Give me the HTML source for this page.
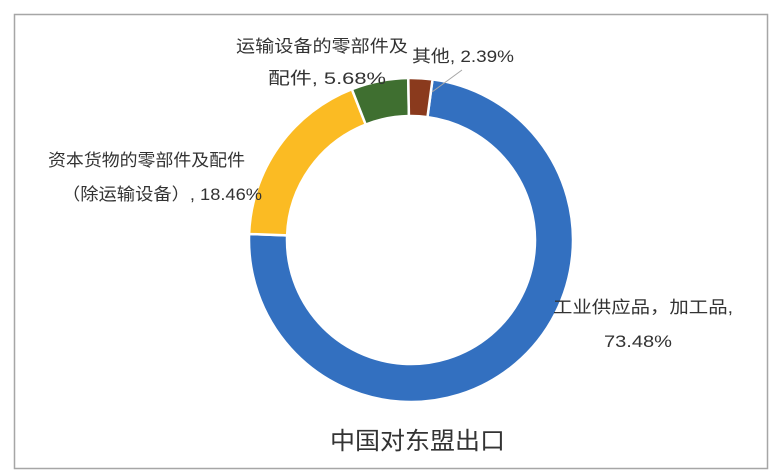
<!DOCTYPE html>
<html><head><meta charset="utf-8"><style>
body{margin:0;background:#fff;}
svg{display:block;font-family:"Liberation Sans","Noto Sans CJK SC",sans-serif;}
</style></head><body>
<svg width="783" height="475" viewBox="0 0 783 475">
<rect x="14.5" y="14.5" width="753" height="454" fill="#fff" stroke="#a6a6a6" stroke-width="1.5"/>
<g id="d"></g>
<line x1="432" y1="92" x2="462" y2="70" stroke="#a6a6a6" stroke-width="1"/>
<g font-size="17" fill="#333">
<text x="236" y="52" textLength="172" lengthAdjust="spacingAndGlyphs">运输设备的零部件及</text>
<text x="268" y="84" textLength="118" lengthAdjust="spacingAndGlyphs">配件, 5.68%</text>
<text x="412" y="62" textLength="102" lengthAdjust="spacingAndGlyphs">其他, 2.39%</text>
<text x="48" y="166" textLength="197" lengthAdjust="spacingAndGlyphs">资本货物的零部件及配件</text>
<text x="62" y="200" textLength="200" lengthAdjust="spacingAndGlyphs">（除运输设备）, 18.46%</text>
<text x="553" y="313" textLength="180" lengthAdjust="spacingAndGlyphs">工业供应品，加工品,</text>
<text x="604" y="347" textLength="68" lengthAdjust="spacingAndGlyphs">73.48%</text>
</g>
<text x="330" y="449" font-size="24" fill="#333" textLength="175" lengthAdjust="spacingAndGlyphs">中国对东盟出口</text>
</svg>
<script>
var cx=411,cy=240,R=162,r=124,start=7.6;
var data=[[73.48,"#3370c0"],[18.46,"#fbbb23"],[5.68,"#3f6f30"],[2.39,"#8a3a1d"]];
var g=document.getElementById('d'),a=start,s='';
function p(ang,rad){var t=(ang-90)*Math.PI/180;return (cx+rad*Math.cos(t)).toFixed(2)+","+(cy+rad*Math.sin(t)).toFixed(2);}
data.forEach(function(d){var e=a+d[0]*3.6,l=d[0]>50?1:0;
s+='<path d="M'+p(a,R)+' A'+R+','+R+' 0 '+l+' 1 '+p(e,R)+' L'+p(e,r)+' A'+r+','+r+' 0 '+l+' 0 '+p(a,r)+' Z" fill="'+d[1]+'" stroke="#fff" stroke-width="2.5"/>';a=e;});
g.innerHTML=s;
</script>
</body></html>
